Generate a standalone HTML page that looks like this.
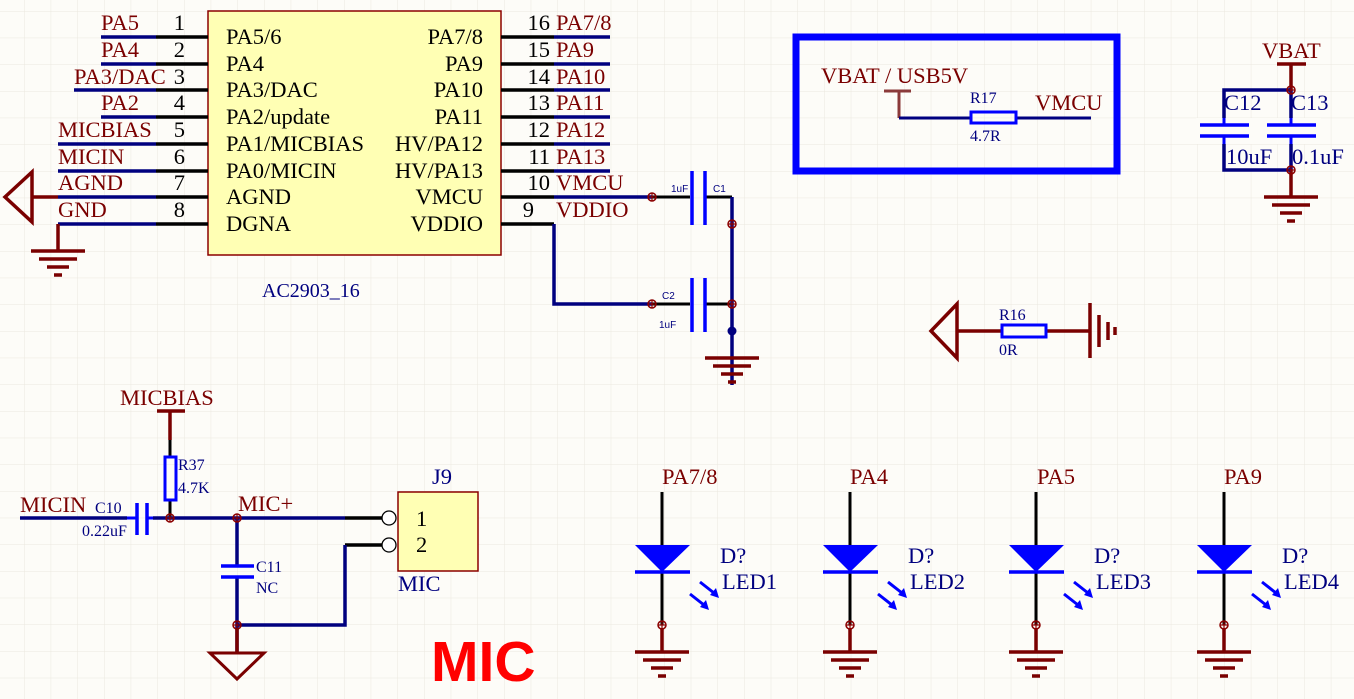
<!DOCTYPE html>
<html><head><meta charset="utf-8"><style>
html,body{margin:0;padding:0;background:#fdfcf8;}
svg{display:block;}
text{font-family:"Liberation Serif",serif;}
text.s{font-family:"Liberation Sans",sans-serif;}
.r{fill:#7a0000;}
.b{fill:#00007f;}
.k{fill:#000;}
</style></head><body>
<svg width="1354" height="699" viewBox="0 0 1354 699" xmlns="http://www.w3.org/2000/svg">
<defs>
<pattern id="g" x="24" y="11" width="26.67" height="26.67" patternUnits="userSpaceOnUse">
<path d="M0 0H26.67M0 0V26.67" stroke="#ebe8df" stroke-width="1" fill="none"/>
</pattern>
<g id="j"><circle r="4" fill="none" stroke="#8b0000" stroke-width="1.5"/><path d="M-4 0H4M0 -4V4" stroke="#8b0000" stroke-width="1.2"/></g>
<g id="gnd" stroke="#7a0000" stroke-width="3.5"><path d="M-27 0H27M-19 8H19M-11 16H11M-4 24H4"/></g>
</defs>
<rect width="1354" height="699" fill="url(#g)"/>

<!-- Chip -->
<rect x="208" y="11" width="293" height="244" fill="#ffffb4" stroke="#8b0000" stroke-width="1.5"/>
<g stroke="#000" stroke-width="3.5">
<path d="M156 37H208M156 64H208M156 90H208M156 117H208M156 144H208M156 171H208M156 197H208M156 224H208"/>
<path d="M501 37H554M501 64H554M501 90H554M501 117H554M501 144H554M501 171H554M501 197H554M501 224H554"/>
</g>
<g stroke="#00007f" stroke-width="3.5">
<path d="M101 37H156M101 64H156M74 90H156M101 117H156M58 144H156M58 171H156M58 197H156M58 224H156"/>
<path d="M554 37H610M554 64H610M554 90H610M554 117H610M554 144H610M554 171H610M554 197H652"/>
<path d="M554 224V304H652" fill="none"/>
</g>
<g font-size="22.5" class="r">
<text x="101" y="30">PA5</text><text x="101" y="57">PA4</text><text x="74" y="84">PA3/DAC</text>
<text x="101" y="110">PA2</text><text x="58" y="137">MICBIAS</text><text x="58" y="164">MICIN</text>
<text x="58" y="190">AGND</text><text x="58" y="217">GND</text>
<text x="556" y="30">PA7/8</text><text x="556" y="57">PA9</text><text x="556" y="84">PA10</text>
<text x="556" y="110">PA11</text><text x="556" y="137">PA12</text><text x="556" y="164">PA13</text>
<text x="556" y="190">VMCU</text><text x="556" y="217">VDDIO</text>
</g>
<g font-size="22.5" class="k" text-anchor="end">
<text x="185" y="30">1</text><text x="185" y="57">2</text><text x="185" y="84">3</text><text x="185" y="110">4</text>
<text x="185" y="137">5</text><text x="185" y="164">6</text><text x="185" y="190">7</text><text x="185" y="217">8</text>
<text x="550" y="30">16</text><text x="550" y="57">15</text><text x="550" y="84">14</text><text x="550" y="110">13</text>
<text x="550" y="137">12</text><text x="550" y="164">11</text><text x="550" y="190">10</text><text x="534" y="217">9</text>
</g>
<g font-size="22.5" class="k">
<text x="226" y="44">PA5/6</text><text x="226" y="71">PA4</text><text x="226" y="97">PA3/DAC</text>
<text x="226" y="124">PA2/update</text><text x="226" y="151">PA1/MICBIAS</text><text x="226" y="178">PA0/MICIN</text>
<text x="226" y="204">AGND</text><text x="226" y="231">DGNA</text>
</g>
<g font-size="22.5" class="k" text-anchor="end">
<text x="483" y="44">PA7/8</text><text x="483" y="71">PA9</text><text x="483" y="97">PA10</text>
<text x="483" y="124">PA11</text><text x="483" y="151">HV/PA12</text><text x="483" y="178">HV/PA13</text>
<text x="483" y="204">VMCU</text><text x="483" y="231">VDDIO</text>
</g>
<text x="262" y="297" font-size="20" class="b">AC2903_16</text>

<!-- AGND / GND left -->
<g stroke="#7a0000" stroke-width="3.5" fill="none">
<path d="M32 172L5 197L32 222Z M32 197H58"/>
<path d="M58 224V250"/>
</g>
<use href="#gnd" x="58" y="251"/>

<!-- C1 C2 -->
<g stroke="#000" stroke-width="3"><path d="M652 197H690M705 197H732M652 304H690M705 304H732"/></g>
<g stroke="#0000ff" stroke-width="3.5"><path d="M692 171V225M705 171V225M692 278V332M705 278V332"/></g>
<path d="M732 197V385" stroke="#00007f" stroke-width="3.5"/>
<circle cx="732" cy="331" r="4.5" fill="#00007f"/>
<use href="#j" x="652" y="197"/><use href="#j" x="732" y="224"/><use href="#j" x="652" y="304"/><use href="#j" x="732" y="304"/>
<use href="#gnd" x="732" y="358"/>
<g font-size="10" class="b">
<text class="s" x="671" y="192">1uF</text><text class="s" x="713" y="192">C1</text><text class="s" x="662" y="299">C2</text><text class="s" x="659" y="328">1uF</text>
</g>

<!-- VMCU box -->
<rect x="796" y="37" width="321" height="134" fill="none" stroke="#0000ff" stroke-width="7"/>
<text x="821" y="83" font-size="22.5" class="r">VBAT / USB5V</text>
<path d="M884 91H911M899 91V118" stroke="#8b3a3a" stroke-width="3" fill="none"/>
<path d="M899 118H971M1016 118H1091" stroke="#00007f" stroke-width="3"/>
<rect x="971" y="112" width="45" height="11" fill="none" stroke="#0000ff" stroke-width="3"/>
<text x="970" y="103" font-size="16" class="b">R17</text>
<text x="970" y="141" font-size="16" class="b">4.7R</text>
<text x="1035" y="110" font-size="22.5" class="r">VMCU</text>

<!-- VBAT caps -->
<text x="1262" y="58" font-size="22.5" class="r">VBAT</text>
<path d="M1277 64H1306M1291 64V90M1291 170V197" stroke="#7a0000" stroke-width="3.5" fill="none"/>
<path d="M1291 90H1224V170H1291M1291 90V170" stroke="#00007f" stroke-width="3.5" fill="none"/>
<rect x="1196" y="118" width="125" height="26" fill="#fdfcf8"/>
<path d="M1224 118V125M1224 136V144M1291 118V125M1291 136V144" stroke="#0000ff" stroke-width="3"/>
<path d="M1200 125H1249M1200 136H1249M1267 125H1316M1267 136H1316" stroke="#0000ff" stroke-width="3.5"/>
<use href="#j" x="1291" y="90"/><use href="#j" x="1291" y="170"/>
<use href="#gnd" x="1291" y="197"/>
<g font-size="22.5" class="b"><text x="1224" y="110">C12</text><text x="1291" y="110">C13</text><text x="1226" y="164">10uF</text><text x="1292" y="164">0.1uF</text></g>

<!-- R16 -->
<g stroke="#7a0000" stroke-width="3.5" fill="none">
<path d="M957 304L931 331L957 358Z M957 331H1002 M1046 331H1090 M1090 303V358 M1099 315V347 M1108 322V340 M1115 327V335"/>
</g>
<rect x="1002" y="325" width="44" height="12" fill="#fdfcf8" stroke="#0000ff" stroke-width="3"/>
<text x="999" y="320" font-size="16" class="b">R16</text>
<text x="999" y="355" font-size="16" class="b">0R</text>

<!-- MIC section -->
<text x="120" y="405" font-size="22.5" class="r">MICBIAS</text>
<path d="M157 411H185M170 411V440" stroke="#7a0000" stroke-width="3.5"/>
<path d="M170 440V457M170 500V518" stroke="#000" stroke-width="3"/>
<rect x="165" y="457" width="11" height="43" fill="none" stroke="#0000ff" stroke-width="3"/>
<text x="178" y="470" font-size="16" class="b">R37</text>
<text x="178" y="493" font-size="16" class="b">4.7K</text>
<text x="20" y="512" font-size="22.5" class="r">MICIN</text>
<text x="95" y="513" font-size="16" class="b">C10</text>
<text x="82" y="536" font-size="16" class="b">0.22uF</text>
<path d="M20 518H127M153 518H345" stroke="#00007f" stroke-width="3.5"/>
<path d="M127 518H136M146 518H153" stroke="#0000ff" stroke-width="3"/>
<path d="M137 503V535M147 503V535" stroke="#0000ff" stroke-width="3.5"/>
<path d="M345 518H382M345 545H382" stroke="#000" stroke-width="3.5"/>
<path d="M237 518V566M237 577V652M237 625H345V545" stroke="#00007f" stroke-width="3.5" fill="none"/>
<path d="M221 566H254M221 577H254" stroke="#0000ff" stroke-width="3.5"/>
<text x="238" y="511" font-size="22.5" class="r">MIC+</text>
<text x="256" y="572" font-size="16" class="b">C11</text>
<text x="256" y="593" font-size="16" class="b">NC</text>
<use href="#j" x="170" y="518"/><use href="#j" x="237" y="518"/><use href="#j" x="237" y="625"/>
<path d="M237 628V652" stroke="#7a0000" stroke-width="3.5"/>
<path d="M210 653H264L237 679Z" fill="none" stroke="#7a0000" stroke-width="3"/>
<circle cx="389" cy="518" r="7" fill="#fff" stroke="#000" stroke-width="1.3"/>
<circle cx="389" cy="545" r="7" fill="#fff" stroke="#000" stroke-width="1.3"/>
<rect x="398" y="492" width="80" height="79" fill="#ffffb4" stroke="#8b0000" stroke-width="1.5"/>
<g font-size="22.5" class="b"><text x="432" y="484">J9</text><text x="398" y="591">MIC</text></g>
<g font-size="22.5" class="k"><text x="416" y="526">1</text><text x="416" y="552">2</text></g>
<text class="s" x="431" y="681" font-size="57" font-weight="bold" fill="#ff0000">MIC</text>

<!-- LEDs -->
<g id="led">
<path d="M662 492V625" stroke="#000" stroke-width="3"/>
<path d="M635 545H690L662 572Z" fill="#0000ff"/>
<path d="M635 572H690" stroke="#0000ff" stroke-width="3.5"/>
<path d="M700 582L714 593M690 594L704 605" stroke="#0000ff" stroke-width="3"/>
<path d="M719 598L710 595L716 588Z M709 610L700 607L706 600Z" fill="#0000ff"/>
<path d="M662 628V652" stroke="#7a0000" stroke-width="3.5"/>
<use href="#j" x="662" y="625"/>
<use href="#gnd" x="662" y="652"/>
<text x="720" y="563" font-size="22.5" class="b">D?</text>
</g>
<use href="#led" x="188"/><use href="#led" x="374"/><use href="#led" x="562"/>
<g font-size="22.5" class="b">
<text x="722" y="589">LED1</text><text x="910" y="589">LED2</text><text x="1096" y="589">LED3</text><text x="1284" y="589">LED4</text>
</g>
<g font-size="22.5" class="r">
<text x="662" y="484">PA7/8</text><text x="850" y="484">PA4</text><text x="1037" y="484">PA5</text><text x="1224" y="484">PA9</text>
</g>
</svg>
</body></html>
